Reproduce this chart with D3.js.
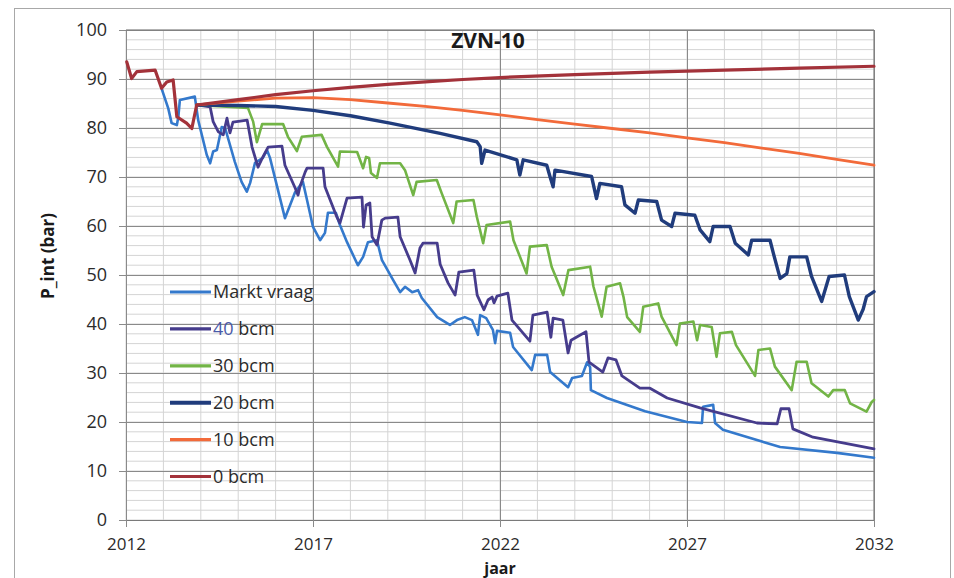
<!DOCTYPE html>
<html><head><meta charset="utf-8">
<script src="https://cdn.jsdelivr.net/npm/d3@7"></script>
<style>
html,body{margin:0;padding:0;background:#fff;}
svg{display:block;font-family:"Open Sans",sans-serif;}
</style></head>
<body>
<svg id="chart" width="954" height="578"></svg>
<script>
// ---------- data (year, P_int in bar) ----------
const seriesNames = ["Markt vraag","40 bcm","30 bcm","20 bcm","10 bcm","0 bcm"];
const xTicks = [2012,2017,2022,2027,2032];
const yTicks = [0,10,20,30,40,50,60,70,80,90,100];

const marktVraag = [[2012.95,88.1],[2013.13,84.0],[2013.22,81.0],[2013.36,80.6],[2013.40,82.3],[2013.44,85.7],[2013.84,86.4],[2013.93,81.6],[2014.16,74.5],[2014.25,72.8],[2014.33,75.2],[2014.43,75.5],[2014.56,80.2],[2014.65,80.0],[2014.91,73.1],[2015.09,69.0],[2015.23,67.0],[2015.32,68.8],[2015.45,72.9],[2015.66,73.9],[2015.77,75.5],[2015.85,73.9],[2016.25,61.6],[2016.44,65.3],[2016.52,66.9],[2016.73,69.0],[2016.84,65.3],[2017.00,59.8],[2017.19,57.1],[2017.32,58.6],[2017.40,62.7],[2017.61,62.7],[2017.72,60.2],[2017.91,56.7],[2018.20,52.0],[2018.34,53.7],[2018.47,56.7],[2018.71,57.1],[2018.84,53.1],[2019.14,49.0],[2019.33,46.5],[2019.46,47.6],[2019.65,46.5],[2019.81,46.9],[2019.91,45.3],[2020.32,41.4],[2020.66,39.8],[2020.85,40.8],[2021.06,41.4],[2021.25,40.8],[2021.41,37.8],[2021.47,41.8],[2021.63,41.2],[2021.81,38.8],[2021.87,36.1],[2021.92,38.6],[2022.27,38.2],[2022.35,35.3],[2022.85,30.6],[2022.94,33.7],[2023.26,33.7],[2023.34,30.2],[2023.82,27.1],[2023.93,29.0],[2024.19,29.4],[2024.33,32.2],[2024.41,31.2],[2024.43,26.5],[2024.86,24.9],[2025.88,22.2],[2027.00,20.0],[2027.40,19.8],[2027.43,23.1],[2027.70,23.5],[2027.75,19.8],[2027.96,18.4],[2029.49,14.9],[2031.01,13.7],[2032.00,12.7]];

const bcm40 = [[2013.89,84.7],[2014.25,84.3],[2014.33,81.3],[2014.47,79.2],[2014.60,78.6],[2014.70,82.0],[2014.78,79.0],[2014.86,81.2],[2015.24,81.6],[2015.37,76.1],[2015.53,72.0],[2015.66,74.1],[2015.80,76.1],[2016.17,76.3],[2016.25,72.4],[2016.52,67.8],[2016.60,66.3],[2016.65,68.0],[2016.79,71.0],[2016.84,71.8],[2017.27,71.8],[2017.32,68.0],[2017.64,61.8],[2017.72,60.6],[2017.91,65.7],[2018.31,65.9],[2018.35,59.8],[2018.42,64.3],[2018.52,64.7],[2018.58,57.8],[2018.71,56.1],[2018.84,61.2],[2018.93,61.6],[2019.27,61.8],[2019.33,57.8],[2019.59,53.1],[2019.73,50.4],[2019.86,55.5],[2019.94,56.5],[2020.32,56.5],[2020.40,52.2],[2020.61,48.4],[2020.80,45.9],[2020.90,50.6],[2021.30,51.0],[2021.39,45.9],[2021.57,42.9],[2021.68,44.9],[2021.79,45.5],[2021.84,44.3],[2021.92,45.7],[2022.21,46.3],[2022.32,40.8],[2022.80,36.5],[2022.88,41.8],[2023.26,42.4],[2023.36,37.3],[2023.42,41.2],[2023.68,40.8],[2023.82,34.1],[2023.90,36.7],[2024.30,38.4],[2024.38,32.2],[2024.75,30.2],[2024.89,33.1],[2025.10,32.7],[2025.26,29.4],[2025.74,26.9],[2026.01,26.9],[2026.47,24.9],[2027.35,22.9],[2028.87,19.8],[2029.41,19.6],[2029.51,22.7],[2029.73,22.7],[2029.83,18.6],[2030.37,16.9],[2032.00,14.5]];

const bcm30 = [[2013.89,84.7],[2015.26,84.1],[2015.40,81.3],[2015.50,77.1],[2015.64,80.8],[2016.20,80.8],[2016.33,78.2],[2016.57,75.3],[2016.70,78.2],[2017.23,78.6],[2017.37,76.2],[2017.67,72.1],[2017.72,75.2],[2018.18,75.1],[2018.34,71.8],[2018.42,74.1],[2018.50,73.9],[2018.55,70.8],[2018.71,69.8],[2018.79,72.8],[2019.33,72.8],[2019.46,71.4],[2019.68,66.3],[2019.77,69.0],[2020.31,69.4],[2020.44,66.7],[2020.75,60.6],[2020.84,65.0],[2021.29,65.3],[2021.38,61.9],[2021.55,56.5],[2021.64,60.2],[2022.27,60.9],[2022.36,57.1],[2022.71,50.3],[2022.80,55.8],[2023.25,56.1],[2023.38,51.7],[2023.69,45.9],[2023.83,51.0],[2024.41,51.7],[2024.50,47.6],[2024.72,41.5],[2024.85,47.6],[2025.21,48.3],[2025.30,45.6],[2025.40,41.4],[2025.74,38.4],[2025.83,43.5],[2026.23,44.2],[2026.32,41.5],[2026.72,35.7],[2026.81,40.1],[2027.17,40.5],[2027.27,36.7],[2027.35,39.8],[2027.66,39.4],[2027.79,33.3],[2027.88,38.1],[2028.20,38.4],[2028.31,35.7],[2028.82,29.4],[2028.91,34.7],[2029.22,35.0],[2029.35,31.3],[2029.80,26.5],[2029.93,32.3],[2030.20,32.3],[2030.33,27.9],[2030.78,25.2],[2030.91,26.5],[2031.22,26.5],[2031.36,23.8],[2031.80,22.1],[2031.94,24.1],[2032.00,24.5]];

const bcm20 = [[2013.89,84.7],[2015.00,84.6],[2016.00,84.4],[2017.00,83.6],[2018.00,82.5],[2019.06,81.0],[2020.40,78.9],[2021.38,77.2],[2021.47,76.2],[2021.51,72.8],[2021.60,75.5],[2022.45,73.5],[2022.53,70.4],[2022.62,73.5],[2023.25,72.4],[2023.34,70.0],[2023.42,68.0],[2023.47,71.4],[2024.45,70.1],[2024.58,65.6],[2024.67,68.7],[2025.25,68.0],[2025.34,64.3],[2025.61,62.6],[2025.70,65.3],[2026.19,65.0],[2026.32,61.2],[2026.59,59.9],[2026.68,62.6],[2027.21,62.2],[2027.35,59.2],[2027.61,56.8],[2027.70,59.9],[2028.15,59.9],[2028.29,56.5],[2028.64,54.1],[2028.73,57.1],[2029.22,57.1],[2029.31,54.4],[2029.49,49.3],[2029.67,50.3],[2029.75,53.7],[2030.20,53.7],[2030.33,49.7],[2030.60,44.6],[2030.80,49.7],[2031.21,50.0],[2031.34,45.6],[2031.58,40.8],[2031.71,43.0],[2031.80,45.6],[2032.00,46.6]];

const bcm10 = [[2013.89,84.7],[2015,85.5],[2016,86.1],[2017,86.2],[2018,85.8],[2019,85.1],[2020,84.4],[2021,83.6],[2022,82.7],[2023,81.7],[2024,80.8],[2025,79.9],[2026,79.0],[2027,78.0],[2028,77.0],[2029,75.9],[2030,74.8],[2031,73.6],[2032,72.4]];

const bcm0 = [[2012.02,93.5],[2012.15,90.1],[2012.29,91.5],[2012.78,91.8],[2012.95,88.1],[2013.09,89.4],[2013.26,89.8],[2013.36,82.3],[2013.62,81.0],[2013.76,79.9],[2013.89,84.7],[2015,85.8],[2016,86.8],[2017,87.6],[2018,88.3],[2019,88.9],[2020,89.4],[2021,89.9],[2022,90.3],[2024,90.9],[2026,91.4],[2028,91.8],[2030,92.2],[2032,92.6]];

const seriesValues = [marktVraag, bcm40, bcm30, bcm20, bcm10, bcm0];
const seriesColors = ["#3479cc","#463c8c","#72b446","#203c7c","#f26a3a","#a3323a"];
const seriesWidths = [2.6,2.8,2.6,3.4,2.8,3.2];

// ---------- layout ----------
const svg = d3.select("#chart");
const x = d3.scaleLinear().domain([2012,2032]).range([126,874]);
const y = d3.scaleLinear().domain([0,100]).range([520,30]);

// outer frame
svg.append("rect").attr("x",14.5).attr("y",8.5).attr("width",936).attr("height",600)
  .attr("fill","none").attr("stroke","#a8a8a8").attr("stroke-width",1);

// minor grid
const g = svg.append("g");
g.selectAll("line.vminor").data(d3.range(2012,2033,1)).join("line")
  .attr("x1",d=>x(d)).attr("x2",d=>x(d)).attr("y1",y(0)).attr("y2",y(100))
  .attr("stroke","#d4d4d4").attr("stroke-width",1);
g.selectAll("line.hminor").data(d3.range(0,101,2)).join("line")
  .attr("x1",x(2012)).attr("x2",x(2032)).attr("y1",d=>y(d)).attr("y2",d=>y(d))
  .attr("stroke","#d4d4d4").attr("stroke-width",1);

// major grid + axes
const yAxis = d3.axisLeft(y).tickValues(yTicks).tickSizeInner(-(x(2032)-x(2012))).tickSizeOuter(0).tickPadding(19).tickFormat(d3.format("d"));
const yg = svg.append("g").attr("transform",`translate(${x(2012)},0)`).call(yAxis);
yg.select(".domain").attr("stroke","#7a7a7a");
yg.selectAll(".tick line").attr("stroke","#8a8a8a").attr("x1",-7);
yg.selectAll(".tick text").attr("font-size",18).attr("fill","#2b2b2b").attr("font-family","Open Sans");

const xAxis = d3.axisBottom(x).tickValues(xTicks).tickSizeInner(-(y(0)-y(100))).tickSizeOuter(0).tickPadding(18).tickFormat(d3.format("d"));
const xg = svg.append("g").attr("transform",`translate(0,${y(0)})`).call(xAxis);
xg.select(".domain").attr("stroke","#7a7a7a");
xg.selectAll(".tick line").attr("stroke","#8a8a8a").attr("y1",7);
xg.selectAll(".tick text").attr("font-size",17).attr("fill","#2b2b2b").attr("font-family","Open Sans");

// right & top border
svg.append("line").attr("x1",x(2032)).attr("x2",x(2032)).attr("y1",y(0)).attr("y2",y(100)).attr("stroke","#7a7a7a");
svg.append("line").attr("x1",x(2012)).attr("x2",x(2032)).attr("y1",y(100)).attr("y2",y(100)).attr("stroke","#7a7a7a");

// series
const line = d3.line().x(d=>x(d[0])).y(d=>y(d[1]));
seriesValues.forEach((vals,i)=>{
  svg.append("path").datum(vals).attr("d",line).attr("fill","none")
    .attr("stroke",seriesColors[i]).attr("stroke-width",seriesWidths[i])
    .attr("stroke-linejoin","round").attr("stroke-linecap","round");
});

// legend
const lg = svg.append("g");
seriesNames.forEach((name,i)=>{
  const ly = 292 + i*36.9;
  lg.append("line").attr("x1",170).attr("x2",211).attr("y1",ly).attr("y2",ly)
    .attr("stroke",seriesColors[i]).attr("stroke-width",i===3?4:3.2);
  const t = lg.append("text").attr("x",213).attr("y",ly).attr("dy","0.36em")
    .attr("font-size",18).attr("fill","#2b2b2b");
  if(name==="40 bcm"){
    t.append("tspan").attr("fill","#4a5aa8").text("40");
    t.append("tspan").text(" bcm");
  } else t.text(name);
});

// titles
svg.append("text").attr("x",488).attr("y",48).attr("text-anchor","middle")
  .attr("font-size",21).attr("font-weight","bold").attr("fill","#1a1a1a").text("ZVN-10");
svg.append("text").attr("x",500).attr("y",574).attr("text-anchor","middle")
  .attr("font-size",16).attr("font-weight","bold").attr("fill","#1a1a1a").text("jaar");
svg.append("text").attr("transform","translate(54,256) rotate(-90)").attr("text-anchor","middle")
  .attr("font-size",17).attr("font-weight","bold").attr("fill","#1a1a1a").text("P_int (bar)");
</script>
</body></html>
